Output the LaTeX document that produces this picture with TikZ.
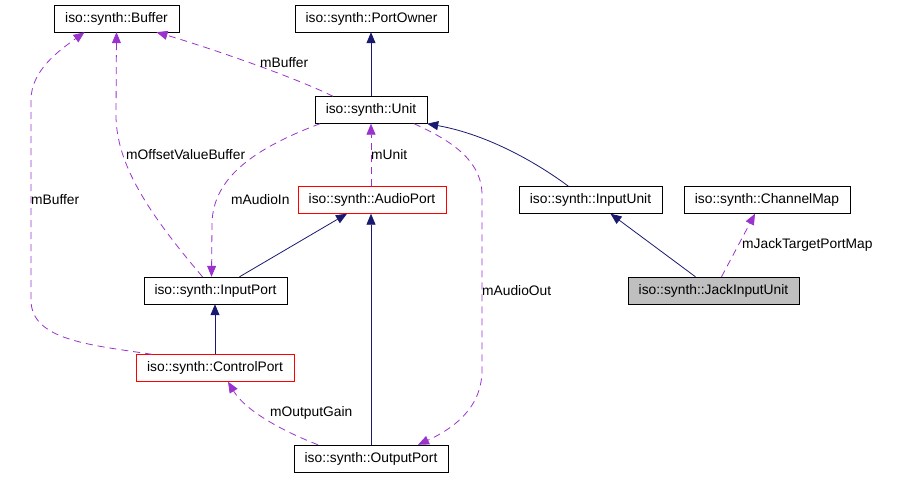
\documentclass[tikz,border=0pt]{standalone}
\usepackage{fontspec}
\setmainfont{Liberation Sans}
\usepackage{tikz}
\usetikzlibrary{arrows.meta,positioning}

\definecolor{edgeblue}{HTML}{191970}
\definecolor{edgepurple}{HTML}{9A32CD}
\definecolor{selfgray}{HTML}{BFBFBF}

\begin{document}
\begin{tikzpicture}[x=1pt,y=-1pt,>={Triangle[length=11pt,width=9pt]},
                    every node/.style={font=\fontsize{13.8}{16}\selectfont},
                    class/.style={draw=black,fill=white,minimum height=27pt,inner sep=0pt},
                    redclass/.style={class,draw=red},
                    thisclass/.style={class,fill=selfgray},
                    inherit/.style={->,draw=edgeblue,line width=0.8pt},
                    uses/.style={->,draw=edgepurple,line width=0.8pt,dash pattern=on 7pt off 5pt},
                    lbl/.style={anchor=west,inner sep=0pt}]
  \useasboundingbox (0,0) rectangle (903,477);

  \node[class,minimum width=125pt]     (buffer)     at (116.5,18.5) {iso::synth::Buffer};
  \node[class,minimum width=153pt]     (portowner)  at (371.5,18.5) {iso::synth::PortOwner};
  \node[class,minimum width=112pt]     (unit)       at (371,110)    {iso::synth::Unit};
  \node[redclass,minimum width=148pt]  (audioport)  at (372,200)    {iso::synth::AudioPort};
  \node[class,minimum width=143pt]     (inputunit)  at (590.5,200)  {iso::synth::InputUnit};
  \node[class,minimum width=166pt]     (channelmap) at (767,200)    {iso::synth::ChannelMap};
  \node[thisclass,minimum width=171pt] (jack)       at (713.5,290.5) {iso::synth::JackInputUnit};
  \node[class,minimum width=143pt]     (inputport)  at (215.5,290.5) {iso::synth::InputPort};
  \node[redclass,minimum width=158pt]  (controlport) at (215,368)   {iso::synth::ControlPort};
  \node[class,minimum width=154pt]     (outputport) at (371,458.5)  {iso::synth::OutputPort};

  % inheritance
  \draw[inherit] (unit.north) -- (unit.north |- portowner.south);
  \draw[inherit] ([xshift=-22pt]inputunit.north) .. controls (540,165) and (490,135) .. (unit.south east);
  \draw[inherit] ([xshift=-18pt]jack.north) -- ([xshift=20pt]inputunit.south);
  \draw[inherit] ([xshift=24pt]inputport.north) -- ([xshift=-25pt]audioport.south);
  \draw[inherit] (outputport.north) -- (outputport.north |- audioport.south);
  \draw[inherit] (controlport.north) -- (controlport.north |- inputport.south);

  % usage
  \draw[uses] ([xshift=8pt]jack.north) -- ([xshift=-12pt]channelmap.south);
  \node[lbl] (mjack) at (742,245) {mJackTargetPortMap};

  \draw[uses] (audioport.north -| unit.south) -- (unit.south);
  \node[lbl] (munit) at (371,155) {mUnit};

  \draw[uses] ([xshift=-38pt]unit.north) .. controls (290,75) and (200,45) .. ([xshift=40pt]buffer.south);
  \node[lbl] (mbuffer1) at (260,63) {mBuffer};

  \draw[uses] ([xshift=-13pt]inputport.north) .. controls (150,215) and (116,165) .. (116,115)
    -- (buffer.south);
  \node[lbl] (moffset) at (126,155) {mOffsetValueBuffer};

  \draw[uses] ([xshift=-51pt]unit.south) .. controls (250,150) and (212,180) .. (212,225)
    -- ([xshift=-4pt]inputport.north);
  \node[lbl] (maudioin) at (231,200) {mAudioIn};

  \draw[uses] ([xshift=-63pt]controlport.north) .. controls (90,345) and (31,340) .. (31,300)
    -- (31,100) .. controls (31,70) and (60,50) .. ([xshift=-32pt]buffer.south);
  \node[lbl] (mbuffer2) at (31,200) {mBuffer};

  \draw[uses] ([xshift=-53pt]outputport.north) .. controls (280,430) and (245,410) .. ([xshift=13pt]controlport.south);
  \node[lbl] (mgain) at (270,413) {mOutputGain};

  \draw[uses] ([xshift=43pt]unit.south) .. controls (450,140) and (482,160) .. (482,195)
    -- (482,370) .. controls (482,410) and (450,430) .. ([xshift=47pt]outputport.north);
  \node[lbl] (maudioout) at (482,291) {mAudioOut};
\end{tikzpicture}
\end{document}
